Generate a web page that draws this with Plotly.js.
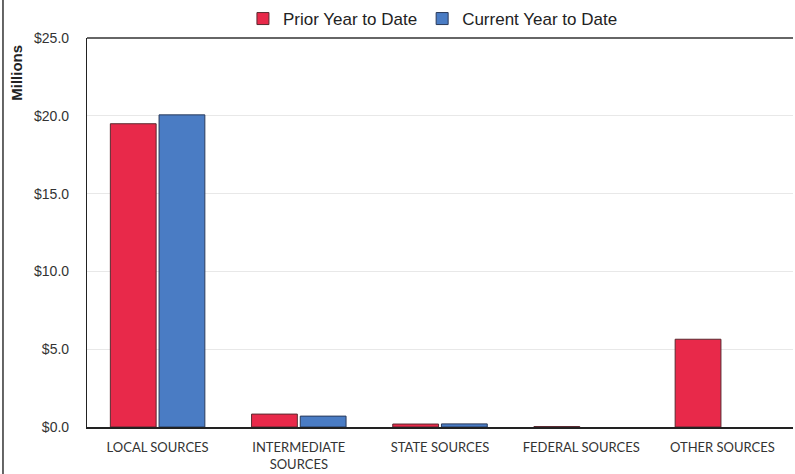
<!DOCTYPE html>
<html><head><meta charset="utf-8">
<script src="https://cdn.plot.ly/plotly-3.0.1.min.js"></script>
<style>body{margin:0;background:#fff}#c{width:795px;height:474px}</style>
</head><body><div id="c"></div>
<script>
const categories = ["LOCAL SOURCES", "INTERMEDIATE<br>SOURCES", "STATE SOURCES", "FEDERAL SOURCES", "OTHER SOURCES"];
const priorYear = [19.49, 0.83, 0.19, 0.03, 5.64];
const currentYear = [20.06, 0.70, 0.20, null, null];
const tickVals = [0, 5, 10, 15, 20, 25];
const tickText = ["$0.0", "$5.0", "$10.0", "$15.0", "$20.0", "$25.0"];

const traces = [
  {type:'bar', name:'Prior Year to Date', x:categories, y:priorYear,
   marker:{color:'#e8294a', line:{color:'#5a2a30', width:1}}},
  {type:'bar', name:'Current Year to Date', x:categories, y:currentYear,
   marker:{color:'#4a7cc4', line:{color:'#2a3a5a', width:1}}}
];
const layout = {
  width:795, height:474,
  margin:{l:87, r:2, t:37, b:47},
  paper_bgcolor:'#fff', plot_bgcolor:'#fff',
  font:{family:'Liberation Sans, Arial, sans-serif', color:'#222'},
  barmode:'group', bargap:0.31, bargroupgap:0.06,
  showlegend:true,
  legend:{orientation:'h', x:0.49, xanchor:'center', y:1.0, yanchor:'bottom',
          font:{size:17, color:'#222'}, itemwidth:30, traceorder:'normal',
          bgcolor:'rgba(0,0,0,0)', tracegroupgap:0},
  xaxis:{tickfont:{family:'Lato, Open Sans, sans-serif', size:13, color:'#333'},
         showline:true, linecolor:'#222', linewidth:1.5, ticks:'', mirror:false,
         ticklabelstandoff:8},
  yaxis:{range:[0,25], tickvals:tickVals, ticktext:tickText,
         tickfont:{size:14, color:'#333'}, showgrid:true, gridcolor:'#e8e8e8',
         showline:true, linecolor:'#222', linewidth:1.2, zeroline:false, ticks:'',
         ticklabelstandoff:14},
  shapes:[
    {type:'line', xref:'paper', yref:'paper', x0:0, x1:1, y0:1, y1:1, line:{color:'#333', width:1.5}},
    {type:'line', xref:'paper', yref:'paper', x0:-0.119, x1:-0.119, y0:-0.2, y1:1.1, line:{color:'#333', width:1.5}}
  ],
  annotations:[
    {text:'<b>Millions</b>', textangle:-90, xref:'paper', yref:'paper', x:-0.099, y:0.988,
     xanchor:'center', yanchor:'top', showarrow:false, font:{size:15, color:'#222'}}
  ]
};
Plotly.newPlot('c', traces, layout, {displayModeBar:false});
</script></body></html>
